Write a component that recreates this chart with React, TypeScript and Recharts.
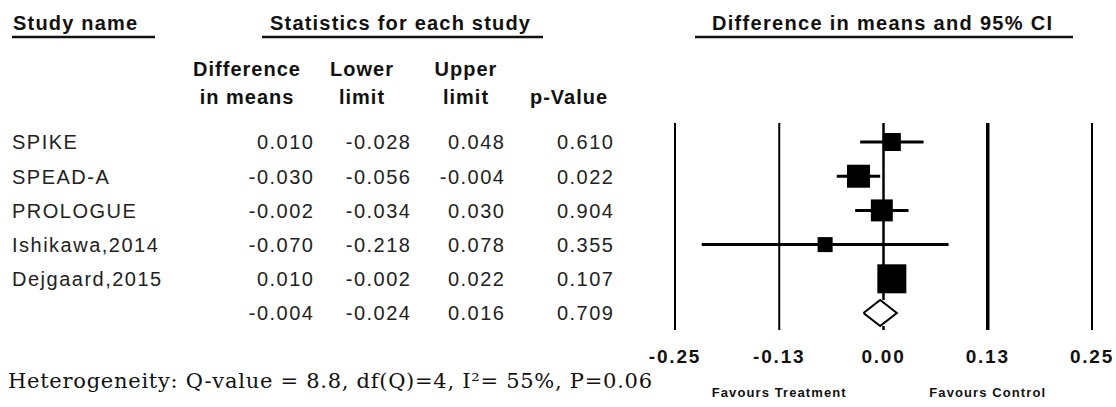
import { ReferenceLine, Scatter, ScatterChart, XAxis, YAxis } from "recharts";

const studies = ["SPIKE", "SPEAD-A", "PROLOGUE", "Ishikawa,2014", "Dejgaard,2015"];
const diffs = [0.01, -0.03, -0.002, -0.07, 0.01];
const lowers = [-0.028, -0.056, -0.034, -0.218, -0.002];
const uppers = [0.048, -0.004, 0.03, 0.078, 0.022];
const pValues = [0.61, 0.022, 0.904, 0.355, 0.107];
// relative study weights (square area)
const weights = [13.5, 22.0, 20.1, 9.4, 35.0];

const summaryDiff = -0.004;
const summaryLower = -0.024;
const summaryUpper = 0.016;
const summaryP = 0.709;

const xTicks = [-0.25, -0.125, 0, 0.125, 0.25];
const favourTicks = [-0.125, 0.125];
const favourLabels = ["Favours Treatment", "Favours Control"];
const heterogeneity = "Heterogeneity: Q-value = 8.8, df(Q)=4, I\u00b2= 55%, P=0.06";

const sans = "'Liberation Sans', Arial, sans-serif";
const ink = "#111";
const summaryRow = studies.length;
const yDomain: [number, number] = [-0.556, 5.497];
const diamondHalf = 0.38;

const points = studies.map((name, i) => ({ name, x: diffs[i], y: i, w: weights[i] }));
const diamond = [
  { x: summaryLower, y: summaryRow },
  { x: summaryDiff, y: summaryRow - diamondHalf },
  { x: summaryUpper, y: summaryRow },
  { x: summaryDiff, y: summaryRow + diamondHalf },
  { x: summaryLower, y: summaryRow },
];

const rowY = (i: number) => 142 + 34.2 * i;

function Square(props: any) {
  const s = 4.9 * Math.sqrt(props.payload.w);
  return <rect x={props.cx - s / 2} y={props.cy - s / 2} width={s} height={s} fill="#000" />;
}

function Table() {
  const cols = [
    { right: 313, values: [...diffs, summaryDiff] },
    { right: 410, values: [...lowers, summaryLower] },
    { right: 504, values: [...uppers, summaryUpper] },
    { right: 613, values: [...pValues, summaryP] },
  ];
  const head = { fontFamily: sans, fontWeight: 700, fontSize: 20, fill: ink };
  const sub = [
    { cx: 247, l1: "Difference", l2: "in means" },
    { cx: 362, l1: "Lower", l2: "limit" },
    { cx: 466, l1: "Upper", l2: "limit" },
    { cx: 569, l1: "", l2: "p-Value" },
  ];
  return (
    <svg width={1116} height={407} style={{ position: "absolute", left: 0, top: 0 }}>
      <text x={13} y={30} {...head} letterSpacing={1.2}>Study name</text>
      <line x1={12} x2={155} y1={37} y2={37} stroke={ink} strokeWidth={2.5} />
      <text x={270} y={30} {...head} letterSpacing={1.2}>Statistics for each study</text>
      <line x1={262} x2={543} y1={37} y2={37} stroke={ink} strokeWidth={2.5} />
      <text x={712} y={30} {...head} letterSpacing={1.3}>Difference in means and 95% CI</text>
      <line x1={695} x2={1073} y1={37} y2={37} stroke={ink} strokeWidth={2.5} />
      {sub.map((s) => (
        <g key={s.l2 + s.cx}>
          <text x={s.cx} y={76} {...head} letterSpacing={1} textAnchor="middle">{s.l1}</text>
          <text x={s.cx} y={104} {...head} letterSpacing={1} textAnchor="middle">{s.l2}</text>
        </g>
      ))}
      {studies.map((n, i) => (
        <text key={n} x={12} y={rowY(i) + 7.3} fontFamily={sans} fontSize={20} letterSpacing={1.5} fill="#222">
          {n}
        </text>
      ))}
      {cols.map((c) =>
        c.values.map((v, i) => (
          <text
            key={c.right + "-" + i}
            x={c.right + 1.5}
            y={rowY(i) + 7.3}
            fontFamily={sans}
            fontSize={20}
            letterSpacing={1.5}
            textAnchor="end"
            fill="#222"
          >
            {v.toFixed(3)}
          </text>
        ))
      )}
      <text
        x={8}
        y={388}
        fontFamily="'DejaVu Serif', serif"
        fontSize={21}
        textLength={644}
        lengthAdjust="spacing"
        fill={ink}
      >
        {heterogeneity}
      </text>
    </svg>
  );
}

export default function App() {
  return (
    <div style={{ position: "absolute", left: 0, top: 0, width: 1116, height: 407, background: "#fff" }}>
      <Table />
      <div style={{ position: "absolute", left: 0, top: 0 }}>
        <ScatterChart width={1116} height={407} margin={{ top: 123, right: 24, left: 675, bottom: 7 }}>
          <XAxis
            type="number"
            dataKey="x"
            domain={[-0.25, 0.25]}
            allowDataOverflow
            ticks={xTicks}
            interval={0}
            axisLine={false}
            tickLine={false}
            tickSize={0}
            tickMargin={0}
            height={40}
            tick={(p: any) => (
              <text
                x={p.x}
                y={p.y + 33}
                textAnchor="middle"
                fontFamily={sans}
                fontWeight={700}
                fontSize={19}
                letterSpacing={1.8}
                fill={ink}
              >
                {p.payload.value.toFixed(2)}
              </text>
            )}
          />
          <XAxis
            xAxisId="fav"
            type="number"
            dataKey="x"
            domain={[-0.25, 0.25]}
            allowDataOverflow
            ticks={favourTicks}
            interval={0}
            axisLine={false}
            tickLine={false}
            tickSize={0}
            tickMargin={0}
            height={30}
            tick={(p: any) => (
              <text
                x={p.x}
                y={p.y + 27}
                textAnchor="middle"
                fontFamily={sans}
                fontWeight={700}
                fontSize={13}
                letterSpacing={1.1}
                fill={ink}
              >
                {favourLabels[favourTicks.indexOf(p.payload.value)]}
              </text>
            )}
          />
          <YAxis type="number" dataKey="y" domain={yDomain} allowDataOverflow reversed hide />
          {xTicks
            .filter((t) => t !== 0)
            .map((t) => (
              <ReferenceLine key={t} x={t} stroke="#000" strokeWidth={t === 0.125 ? 3.5 : 2} />
            ))}
          <ReferenceLine
            segment={[
              { x: 0, y: yDomain[0] },
              { x: 0, y: summaryRow - diamondHalf },
            ]}
            stroke="#000"
            strokeWidth={2.5}
          />
          <ReferenceLine
            segment={[
              { x: 0, y: summaryRow + diamondHalf },
              { x: 0, y: yDomain[1] },
            ]}
            stroke="#000"
            strokeWidth={2.5}
          />
          {studies.map((n, i) => (
            <ReferenceLine
              key={n}
              segment={[
                { x: lowers[i], y: i },
                { x: uppers[i], y: i },
              ]}
              stroke="#000"
              strokeWidth={3}
            />
          ))}
          <Scatter data={points} shape={Square} isAnimationActive={false} />
          <Scatter
            xAxisId="fav"
            data={diamond}
            fill="#000"
            line={{ stroke: "#000", strokeWidth: 2 }}
            lineType="joint"
            shape={() => <g />}
            isAnimationActive={false}
          />
        </ScatterChart>
      </div>
    </div>
  );
}
